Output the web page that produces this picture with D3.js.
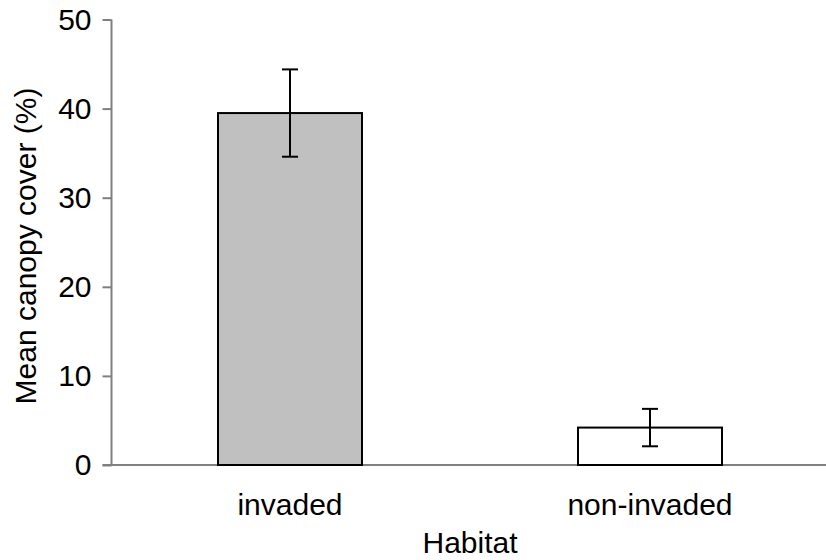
<!DOCTYPE html>
<html>
<head>
<meta charset="utf-8">
<script src="https://cdn.jsdelivr.net/npm/d3@7"></script>
<style>
  html, body { margin: 0; padding: 0; background: #fff; }
  svg { display: block; }
  text { font-family: Arial, "Liberation Sans", sans-serif; fill: #000; }
</style>
</head>
<body>
<svg id="chart" width="826" height="560"></svg>
<script>
// Habitat categories and mean canopy cover with error (±)
const habitats = ["invaded", "non-invaded"];
const meanCover = [39.5, 4.2];
const errorCover = [4.9, 2.1];
const barFills = ["#c0c0c0", "#ffffff"];
const yTicks = [0, 10, 20, 30, 40, 50];

const svg = d3.select("#chart");
const fontSize = 30;

const x = d3.scaleBand()
  .domain(habitats)
  .range([110, 830])
  .paddingInner(0.6)
  .paddingOuter(0.3);

const y = d3.scaleLinear()
  .domain([0, 50])
  .range([465, 19.5]);

const axisX = 111.5;

// Bars
svg.selectAll("rect.bar")
  .data(habitats)
  .join("rect")
  .attr("class", "bar")
  .attr("x", d => x(d))
  .attr("y", (d, i) => y(meanCover[i]))
  .attr("width", x.bandwidth())
  .attr("height", (d, i) => y(0) - y(meanCover[i]))
  .attr("fill", (d, i) => barFills[i])
  .attr("stroke", "#000")
  .attr("stroke-width", 2);

// X axis baseline (extends to the right edge)
svg.append("line")
  .attr("x1", axisX - 9).attr("x2", 826)
  .attr("y1", y(0)).attr("y2", y(0))
  .attr("stroke", "#808080").attr("stroke-width", 2);

// Bar bottom edges in black over the axis
svg.selectAll("line.barbase")
  .data(habitats)
  .join("line")
  .attr("class", "barbase")
  .attr("x1", d => x(d) - 1)
  .attr("x2", d => x(d) + x.bandwidth() + 1)
  .attr("y1", y(0)).attr("y2", y(0))
  .attr("stroke", "#000").attr("stroke-width", 2);

// Error bars
const capHalf = 8;
const eb = svg.selectAll("g.err")
  .data(habitats)
  .join("g")
  .attr("class", "err")
  .attr("stroke", "#000")
  .attr("stroke-width", 2);

eb.append("line")
  .attr("x1", d => x(d) + x.bandwidth() / 2)
  .attr("x2", d => x(d) + x.bandwidth() / 2)
  .attr("y1", (d, i) => y(meanCover[i] + errorCover[i]))
  .attr("y2", (d, i) => y(meanCover[i] - errorCover[i]));
eb.append("line")
  .attr("x1", d => x(d) + x.bandwidth() / 2 - capHalf)
  .attr("x2", d => x(d) + x.bandwidth() / 2 + capHalf)
  .attr("y1", (d, i) => y(meanCover[i] + errorCover[i]))
  .attr("y2", (d, i) => y(meanCover[i] + errorCover[i]));
eb.append("line")
  .attr("x1", d => x(d) + x.bandwidth() / 2 - capHalf)
  .attr("x2", d => x(d) + x.bandwidth() / 2 + capHalf)
  .attr("y1", (d, i) => y(meanCover[i] - errorCover[i]))
  .attr("y2", (d, i) => y(meanCover[i] - errorCover[i]));

// Y axis
const yAxis = d3.axisLeft(y)
  .tickValues(yTicks)
  .tickSize(9)
  .tickPadding(11);

const gy = svg.append("g")
  .attr("transform", `translate(${axisX},0)`)
  .call(yAxis);
gy.select(".domain")
  .attr("d", `M0,${y(50)}V${y(0)}`)
  .attr("stroke", "#808080").attr("stroke-width", 2);
gy.selectAll(".tick line").attr("stroke", "#808080").attr("stroke-width", 2);
gy.selectAll(".tick text")
  .attr("font-size", fontSize)
  .attr("font-family", "Arial, 'Liberation Sans', sans-serif")
  .attr("fill", "#000");

// Category labels
svg.selectAll("text.cat")
  .data(habitats)
  .join("text")
  .attr("class", "cat")
  .attr("x", d => x(d) + x.bandwidth() / 2)
  .attr("y", 515)
  .attr("text-anchor", "middle")
  .attr("font-size", fontSize)
  .text(d => d);

// Axis titles
svg.append("text")
  .attr("x", (x.range()[0] + x.range()[1]) / 2)
  .attr("y", 553)
  .attr("text-anchor", "middle")
  .attr("font-size", fontSize)
  .text("Habitat");

svg.append("text")
  .attr("transform", "translate(35.5,246) rotate(-90)")
  .attr("text-anchor", "middle")
  .attr("font-size", fontSize)
  .text("Mean canopy cover (%)");
</script>
</body>
</html>
